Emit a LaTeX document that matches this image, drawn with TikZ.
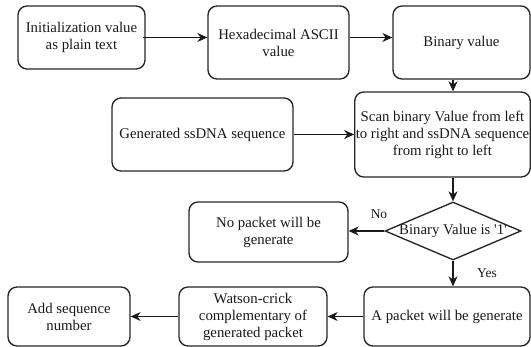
\documentclass[tikz,border=0pt]{standalone}
\usepackage{fontspec}
\setmainfont{Liberation Serif}
\usetikzlibrary{shapes.geometric,arrows.meta}
\begin{document}
\begin{tikzpicture}[x=1pt,y=-1pt,
  box/.style={draw=black!85, line width=1.35pt, rounded corners=9pt, inner sep=1pt, align=center, text=black!90, font=\fontsize{14.8}{17}\selectfont},
  dia/.style={draw=black!85, line width=1.35pt, diamond, inner sep=0pt},
  txt/.style={align=center, text=black!90, font=\fontsize{14.8}{17}\selectfont},
  arr/.style={line width=1.2pt, draw=black!90, -{Stealth[length=10pt,width=9pt]}},
  lbl/.style={text=black!90, font=\fontsize{13.5}{16}\selectfont}]
\useasboundingbox (0,0) rectangle (531,347);
\clip (0,0) rectangle (531,347);
\node[box, minimum width=127pt, minimum height=63pt] (b1) at (81.5,37.5) {Initialization value\\as plain text};
\node[box, minimum width=141pt, minimum height=73pt] (b2) at (278.5,42.5) {Hexadecimal ASCII\\value};
\node[box, minimum width=137pt, minimum height=73pt] (b3) at (461.5,42.5) {Binary value};
\node[box, minimum width=181pt, minimum height=73pt] (ss) at (202.5,134.5) {Generated ssDNA sequence};
\node[box, minimum width=175pt, minimum height=85pt] (scan) at (442.5,134.5) {Scan binary Value from left\\to right and ssDNA sequence\\from right to left};
\node[dia, minimum width=136pt, minimum height=58pt] (d) at (453,231) {};
\node[txt] (dt) at (d.center) {Binary Value is \textquotesingle 1\textquotesingle};
\node[box, minimum width=159pt, minimum height=60pt] (nobox) at (268.5,232) {No packet will be\\generate};
\node[box, minimum width=166pt, minimum height=59pt] (ap) at (447,316.5) {A packet will be generate};
\node[box, minimum width=148pt, minimum height=59pt] (wc) at (253,316.5) {Watson-crick\\complementary of\\generated packet};
\node[box, minimum width=122pt, minimum height=59pt] (add) at (69,316.5) {Add sequence\\number};
\node[lbl] (no) at (379,214) {No};
\node[lbl] (yes) at (487,273) {Yes};
\draw[arr] ([xshift=-3pt]b1.east) -- (b1.east -| b2.west);
\draw[arr] (b2.east |- b1.east) -- (b1.east -| b3.west);
\draw[arr] (b3.south -| d.north) -- (scan.north -| d.north);
\draw[arr] (ss.east) -- (ss.east -| scan.west);
\draw[arr] (scan.south -| d.north) -- (d.north);
\draw[arr] (d.west) -- (d.west -| nobox.east);
\draw[arr] (d.south) -- (d.south |- ap.north);
\draw[arr] (ap.west) -- (ap.west -| wc.east);
\draw[arr] (wc.west) -- (wc.west -| add.east);
\end{tikzpicture}
\end{document}
